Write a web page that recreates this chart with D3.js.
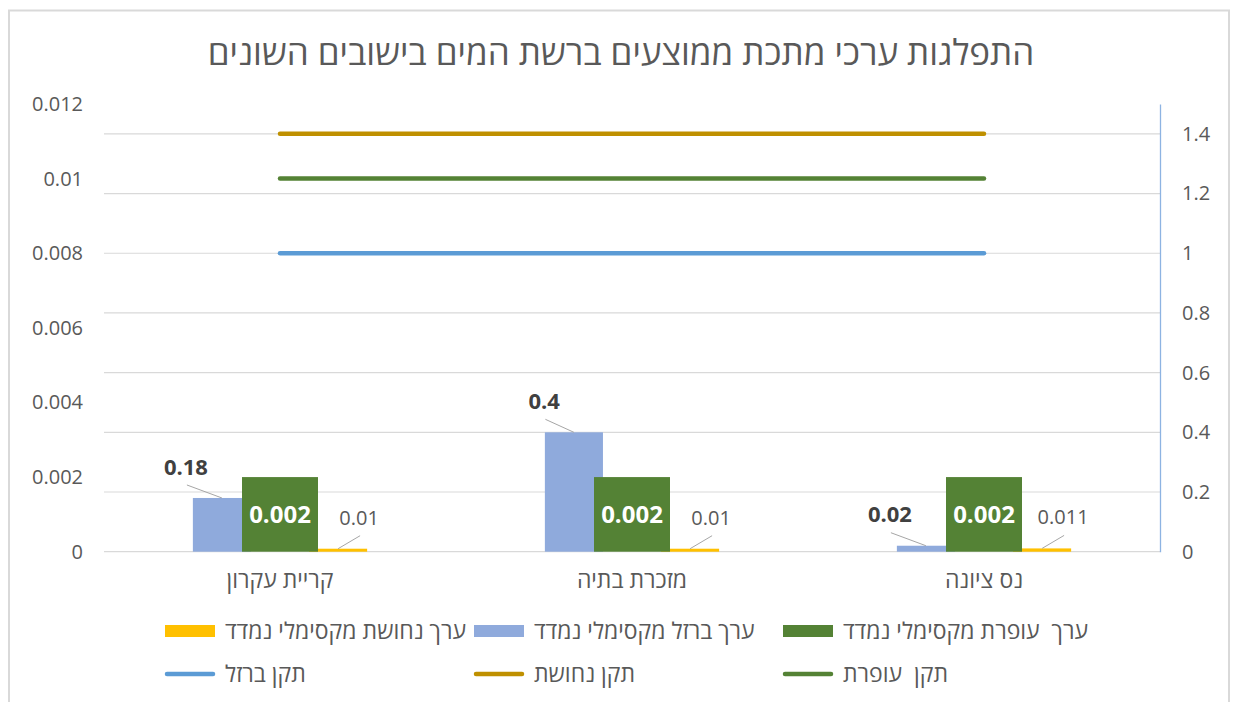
<!DOCTYPE html>
<html>
<head>
<meta charset="utf-8">
<script src="https://cdn.jsdelivr.net/npm/d3@7"></script>
<style>
  body { margin: 0; background: #fff; }
  text { font-family: "Open Sans", "Liberation Sans", sans-serif; white-space: pre; }
</style>
</head>
<body>
<div id="chart"></div>
<script>
// data (display order, left to right)
const categories = ["קריית עקרון", "מזכרת בתיה", "נס ציונה"];
const ironMax = [0.18, 0.4, 0.02];
const leadMax = [0.002, 0.002, 0.002];
const copperMax = [0.01, 0.01, 0.011];
const ironStd = [1, 1, 1];
const copperStd = [1.4, 1.4, 1.4];
const leadStd = [0.01, 0.01, 0.01];
const leftTicks = [0, 0.002, 0.004, 0.006, 0.008, 0.01, 0.012];
const rightTicks = [0, 0.2, 0.4, 0.6, 0.8, 1, 1.2, 1.4];
const title = "התפלגות ערכי מתכת ממוצעים ברשת המים בישובים השונים";

const W = 1235, H = 702;
const plot = { left: 104, right: 1160, top: 104, bottom: 551.7 };
const textColor = "#595959";

const svg = d3.select("#chart")
  .append("svg")
  .attr("width", W)
  .attr("height", H);

// outer chart border
svg.append("rect")
  .attr("x", 9).attr("y", 10.5)
  .attr("width", 1220).attr("height", 720)
  .attr("fill", "#fff")
  .attr("stroke", "#d9d9d9")
  .attr("stroke-width", 2);

svg.append("text")
  .attr("x", 621)
  .attr("y", 65)
  .attr("text-anchor", "middle")
  .style("font-size", "35px")
  .style("fill", textColor)
  .text(title);

const x0 = d3.scaleBand()
  .domain(categories)
  .range([plot.left, plot.right])
  .padding(0);

// secondary axis group: iron, (empty slot), copper
const x1 = d3.scaleBand()
  .domain(["iron", "gap", "copper"])
  .range([0, x0.bandwidth()])
  .paddingInner(0)
  .paddingOuter(1.53);

// primary axis group: lead
const xLead = d3.scaleBand()
  .domain(["lead"])
  .range([0, x0.bandwidth()])
  .paddingOuter(1.816);

const yLeft = d3.scaleLinear().domain([0, 0.012]).range([plot.bottom, plot.top]);
const yRight = d3.scaleLinear().domain([0, 1.5]).range([plot.bottom, plot.top]);

// gridlines (secondary axis)
svg.append("g")
  .selectAll("line")
  .data(rightTicks)
  .join("line")
  .attr("x1", plot.left)
  .attr("x2", plot.right)
  .attr("y1", d => yRight(d))
  .attr("y2", d => yRight(d))
  .attr("stroke", "#d9d9d9")
  .attr("stroke-width", 1.2);

// left axis - labels only
const gl = svg.append("g")
  .attr("transform", `translate(${plot.left},0)`)
  .call(d3.axisLeft(yLeft).tickValues(leftTicks).tickFormat(d => d).tickSize(0).tickPadding(21));
gl.select(".domain").remove();
gl.selectAll("text").style("font-size", "20px").style("fill", textColor).style("font-family", null);

// right axis
const gr = svg.append("g")
  .attr("transform", `translate(${plot.right},0)`)
  .call(d3.axisRight(yRight).tickValues(rightTicks).tickFormat(d => d).tickSize(0).tickPadding(22));
gr.select(".domain").attr("stroke", "#8db3e2").attr("stroke-width", 1.3);
gr.selectAll("text").style("font-size", "20px").style("fill", textColor).style("font-family", null);

// category labels
svg.append("g")
  .selectAll("text")
  .data(categories)
  .join("text")
  .attr("x", d => x0(d) + x0.bandwidth() / 2)
  .attr("y", 588)
  .attr("text-anchor", "middle")
  .style("font-size", "23px")
  .style("fill", textColor)
  .text(d => d);

const rows = categories.map((c, i) => ({
  cat: c, iron: ironMax[i], lead: leadMax[i], copper: copperMax[i]
}));

const colors = {
  iron: "#8faadc", lead: "#548235", copper: "#ffc000",
  ironStd: "#5b9bd5", copperStd: "#bf9000", leadStd: "#548235"
};

// iron bars
svg.append("g")
  .selectAll("rect")
  .data(rows)
  .join("rect")
  .attr("x", d => x0(d.cat) + x1("iron"))
  .attr("y", d => yRight(d.iron))
  .attr("width", x1.bandwidth())
  .attr("height", d => plot.bottom - yRight(d.iron))
  .attr("fill", colors.iron);

// copper bars
svg.append("g")
  .selectAll("rect")
  .data(rows)
  .join("rect")
  .attr("x", d => x0(d.cat) + x1("copper"))
  .attr("y", d => yRight(d.copper))
  .attr("width", x1.bandwidth())
  .attr("height", d => plot.bottom - yRight(d.copper))
  .attr("fill", colors.copper);

// lead bars
svg.append("g")
  .selectAll("rect")
  .data(rows)
  .join("rect")
  .attr("x", d => x0(d.cat) + xLead("lead"))
  .attr("y", d => yLeft(d.lead))
  .attr("width", xLead.bandwidth())
  .attr("height", d => plot.bottom - yLeft(d.lead))
  .attr("fill", colors.lead);

// standard lines
const cx = (d, i) => x0(categories[i]) + x0.bandwidth() / 2;
const stdLines = [
  { vals: ironStd, y: yRight, color: colors.ironStd },
  { vals: copperStd, y: yRight, color: colors.copperStd },
  { vals: leadStd, y: yLeft, color: colors.leadStd }
];
stdLines.forEach(s => {
  svg.append("path")
    .datum(s.vals)
    .attr("fill", "none")
    .attr("stroke", s.color)
    .attr("stroke-width", 4.5)
    .attr("stroke-linecap", "round")
    .attr("d", d3.line().x(cx).y(d => s.y(d)));
});

// data labels with leader lines
function labelWithLeader(g, bx, by, txt, opts) {
  const t = g.append("text")
    .attr("x", bx + opts.dx)
    .attr("y", by + opts.dy)
    .attr("dy", "0.35em")
    .attr("text-anchor", opts.anchor)
    .style("font-size", opts.size)
    .style("font-weight", opts.weight)
    .style("fill", opts.fill)
    .text(txt);
  const bb = t.node().getBBox();
  g.insert("line", "text")
    .attr("x1", bb.x + bb.width / 2 + 1)
    .attr("y1", by - 13)
    .attr("x2", bx)
    .attr("y2", by)
    .attr("stroke", "#a6a6a6")
    .attr("stroke-width", 1);
}

const labels = svg.append("g");
rows.forEach(d => {
  const bxI = x0(d.cat) + x1("iron") + x1.bandwidth() / 2;
  labelWithLeader(labels, bxI, yRight(d.iron), d.iron,
    { dx: -14, dy: -31, anchor: "end", size: "22px", weight: "bold", fill: "#404040" });

  const bxC = x0(d.cat) + x1("copper") + x1.bandwidth() / 2;
  labelWithLeader(labels, bxC, yRight(d.copper), d.copper,
    { dx: 21, dy: -31, anchor: "middle", size: "20px", weight: "normal", fill: textColor });

  labels.append("text")
    .attr("x", x0(d.cat) + x0.bandwidth() / 2)
    .attr("y", (yLeft(d.lead) + plot.bottom) / 2)
    .attr("dy", "0.35em")
    .attr("text-anchor", "middle")
    .style("font-size", "24px")
    .style("font-weight", "bold")
    .style("fill", "#fff")
    .text(d.lead);
});

// legend (right to left)
const legendBars = [
  { name: "ערך  עופרת מקסימלי נמדד", color: colors.lead },
  { name: "ערך ברזל מקסימלי נמדד", color: colors.iron },
  { name: "ערך נחושת מקסימלי נמדד", color: colors.copper }
];
const legendLines = [
  { name: "תקן  עופרת", color: colors.leadStd },
  { name: "תקן נחושת", color: colors.copperStd },
  { name: "תקן ברזל", color: colors.ironStd }
];
const colX = i => 783 - i * 309;

const lb = svg.selectAll(".legend-bar")
  .data(legendBars)
  .enter().append("g")
  .attr("transform", (d, i) => `translate(${colX(i)},631)`);
lb.append("rect")
  .attr("y", -6)
  .attr("width", 50)
  .attr("height", 12)
  .attr("fill", d => d.color);
lb.append("text")
  .attr("x", 60)
  .attr("dy", "0.35em")
  .style("font-size", "23px")
  .style("fill", textColor)
  .text(d => d.name);

const ll = svg.selectAll(".legend-line")
  .data(legendLines)
  .enter().append("g")
  .attr("transform", (d, i) => `translate(${colX(i)},674)`);
ll.append("line")
  .attr("x1", 2).attr("x2", 48)
  .attr("stroke", d => d.color)
  .attr("stroke-width", 4.5)
  .attr("stroke-linecap", "round");
ll.append("text")
  .attr("x", 60)
  .attr("dy", "0.35em")
  .style("font-size", "23px")
  .style("fill", textColor)
  .text(d => d.name);
</script>
</body>
</html>
